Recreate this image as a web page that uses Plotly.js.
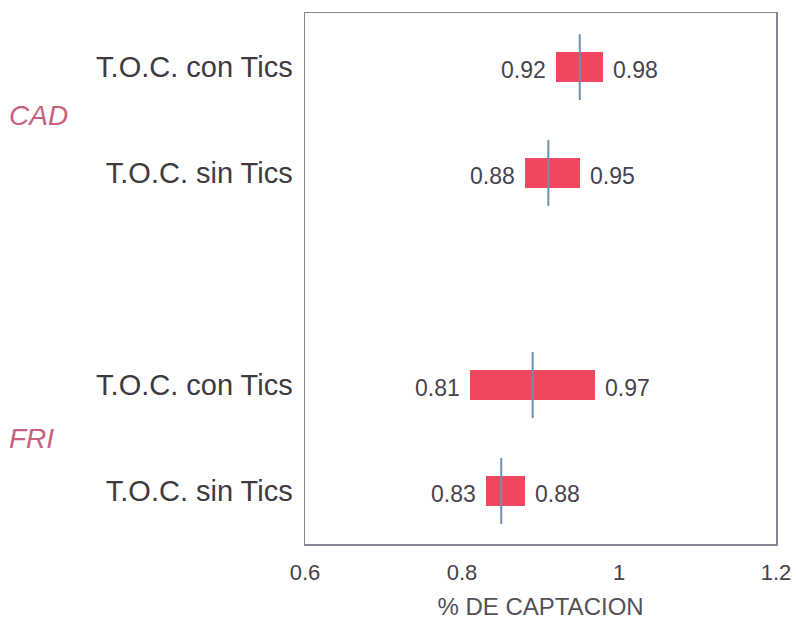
<!DOCTYPE html>
<html>
<head>
<meta charset="utf-8">
<script src="https://cdn.plot.ly/plotly-3.0.1.min.js"></script>
<style>html,body{margin:0;padding:0;background:#fff;}#chart{width:796px;height:622px;}</style>
</head>
<body>
<div id="chart"></div>
<script>
// Rows (top to bottom in the picture)
const rowIds    = ['CAD-con', 'CAD-sin', 'FRI-con', 'FRI-sin'];
const rowLabels = ['T.O.C. con Tics', 'T.O.C. sin Tics', 'T.O.C. con Tics', 'T.O.C. sin Tics'];
const lowValues  = [0.92, 0.88, 0.81, 0.83];
const highValues = [0.98, 0.95, 0.97, 0.88];
const midValues  = [0.95, 0.91, 0.89, 0.85];
const groupNames = ['CAD', 'FRI'];
const xTicks = [0.6, 0.8, 1.0, 1.2];
const xTickText = ['0.6', '0.8', '1', '1.2'];
const xTitle = '% DE CAPTACION';

const FONT = 'Liberation Sans, Arial, Helvetica, sans-serif';
const spacer = ' ';
const catOrder = ['FRI-sin', 'FRI-con', spacer, 'CAD-sin', 'CAD-con'];

const bars = {
  type: 'bar', orientation: 'h',
  y: rowIds,
  base: lowValues,
  x: highValues.map((h, i) => +(h - lowValues[i]).toFixed(4)),
  width: 0.283,
  marker: {color: '#f0475f', line: {width: 0}},
  hoverinfo: 'skip', showlegend: false
};
const mids = {
  type: 'scatter', mode: 'markers',
  y: rowIds, x: midValues,
  marker: {symbol: 'line-ns-open', size: 47, color: '#6f8fae', line: {color: '#6f8fae', width: 2}},
  hoverinfo: 'skip', showlegend: false
};

const annotations = [];
rowIds.forEach((id, i) => {
  annotations.push({x: lowValues[i], y: id, xref: 'x', yref: 'y', text: lowValues[i].toFixed(2),
    showarrow: false, xanchor: 'right', xshift: -8, yshift: -3,
    font: {family: FONT, size: 23, color: '#48434e'}});
  annotations.push({x: highValues[i], y: id, xref: 'x', yref: 'y', text: highValues[i].toFixed(2),
    showarrow: false, xanchor: 'left', xshift: 8, yshift: -3,
    font: {family: FONT, size: 23, color: '#48434e'}});
});
const groupY = [3.54, 0.5];
groupNames.forEach((g, i) => {
  annotations.push({x: 0, y: groupY[i], xref: 'paper', yref: 'y', text: '<i>' + g + '</i>',
    showarrow: false, xanchor: 'left', xshift: -305 + 7,
    font: {family: FONT, size: 28, color: '#c9607f'}});
});

const layout = {
  width: 796, height: 622,
  margin: {l: 305, r: 20, t: 13, b: 78},
  paper_bgcolor: '#ffffff', plot_bgcolor: '#ffffff',
  showlegend: false,
  bargap: 0,
  xaxis: {
    range: [0.6, 1.2], tickvals: xTicks, ticktext: xTickText,
    showgrid: false, zeroline: false, ticks: '',
    showline: true, mirror: true, linecolor: '#8d8396', linewidth: 1.5,
    tickfont: {family: FONT, size: 22, color: '#46414c'},
    ticklabelstandoff: 8,
    title: {text: xTitle, font: {family: FONT, size: 24, color: '#555058'}, standoff: 14}
  },
  yaxis: {
    type: 'category', categoryorder: 'array', categoryarray: catOrder,
    range: [-0.5, 4.51],
    tickvals: rowIds, ticktext: rowLabels,
    showgrid: false, zeroline: false, ticks: '',
    showline: true, mirror: true, linecolor: '#8d8396', linewidth: 1.5,
    tickfont: {family: FONT, size: 29, color: '#3d3a40'},
    ticklabelstandoff: 5
  },
  annotations: annotations
};

Plotly.newPlot('chart', [bars, mids], layout, {displayModeBar: false, staticPlot: true});
</script>
</body>
</html>
